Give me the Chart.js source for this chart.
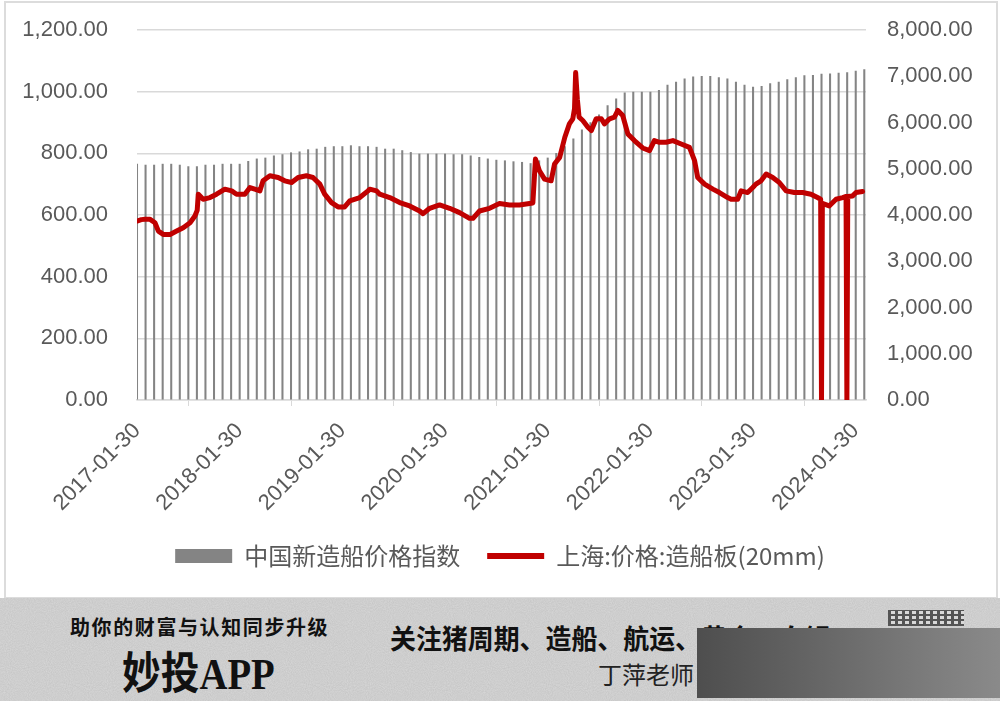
<!DOCTYPE html>
<html>
<head>
<meta charset="utf-8">
<script src="https://cdn.jsdelivr.net/npm/chart.js@4.4.1/dist/chart.umd.min.js"></script>
<style>
html,body{margin:0;padding:0;background:#fff;}
body{width:1000px;height:701px;position:relative;overflow:hidden;font-family:"Noto Sans CJK SC",sans-serif;}
#chartBox{position:absolute;left:0;top:0;width:1000px;height:598px;}
#frame{position:absolute;left:4px;top:1px;width:990px;height:594px;border:2px solid #dcdcdc;pointer-events:none;}
#banner{position:absolute;left:0;top:598px;width:1000px;height:103px;overflow:hidden;
  background:#d8d8d8 url("data:image/svg+xml;utf8,<svg xmlns='http://www.w3.org/2000/svg' width='240' height='240'><filter id='n'><feTurbulence type='fractalNoise' baseFrequency='0.95' numOctaves='2' seed='3'/><feColorMatrix values='0 0 0 0 0.45 0 0 0 0 0.45 0 0 0 0 0.45 0 0 0 0.55 0'/></filter><rect width='100%' height='100%' filter='url(%23n)'/></svg>");}
.bt{position:absolute;white-space:nowrap;color:#111;}
#slogan{left:70px;top:14px;font-size:20px;font-weight:bold;letter-spacing:1.6px;}
#app{left:122px;top:55px;font-size:44px;font-weight:bold;font-family:"Liberation Serif","Noto Sans CJK SC",serif;transform:scaleX(0.88);transform-origin:left top;line-height:44px;}
#topics{left:390px;top:20px;font-size:27px;font-weight:bold;transform:scaleX(0.96);transform-origin:left top;}
#teacher{left:598px;top:58px;font-size:24px;color:#222;}
#qr{left:888px;top:12px;width:76px;height:16px;background:
  repeating-linear-gradient(90deg,#222 0 3px,transparent 3px 7px),
  repeating-linear-gradient(0deg,#222 0 2px,#ddd 2px 5px);opacity:.7;}
#cover{left:697px;top:30px;width:303px;height:70px;background:linear-gradient(90deg,#4e4e4e,#8a8a8a);}
</style>
</head>
<body>
<div id="chartBox"><canvas id="myChart"></canvas></div>
<div id="frame"></div>
<div id="banner">
  <div class="bt" id="slogan">助你的财富与认知同步升级</div>
  <div class="bt" id="app">妙投APP</div>
  <div class="bt" id="topics">关注猪周期、造船、航运、黄金、白银</div>
  <div class="bt" id="teacher">丁萍老师</div>
  <div class="bt" id="qr"></div>
  <div class="bt" id="cover"></div>
</div>
<script>
// 中国新造船价格指数, monthly (left axis)
const indexMonths=[
 '2017-01','2017-02','2017-03','2017-04','2017-05','2017-06','2017-07','2017-08','2017-09','2017-10','2017-11','2017-12',
 '2018-01','2018-02','2018-03','2018-04','2018-05','2018-06','2018-07','2018-08','2018-09','2018-10','2018-11','2018-12',
 '2019-01','2019-02','2019-03','2019-04','2019-05','2019-06','2019-07','2019-08','2019-09','2019-10','2019-11','2019-12',
 '2020-01','2020-02','2020-03','2020-04','2020-05','2020-06','2020-07','2020-08','2020-09','2020-10','2020-11','2020-12',
 '2021-01','2021-02','2021-03','2021-04','2021-05','2021-06','2021-07','2021-08','2021-09','2021-10','2021-11','2021-12',
 '2022-01','2022-02','2022-03','2022-04','2022-05','2022-06','2022-07','2022-08','2022-09','2022-10','2022-11','2022-12',
 '2023-01','2023-02','2023-03','2023-04','2023-05','2023-06','2023-07','2023-08','2023-09','2023-10','2023-11','2023-12',
 '2024-01','2024-02'];
const indexValues=[
 765,762,762,765,765,762,757,757,762,762,765,765,
 765,774,782,785,792,796,802,805,812,814,820,822,
 822,825,822,822,820,814,814,809,803,798,798,798,
 798,796,796,792,787,782,778,776,773,771,767,776,
 785,800,822,847,876,900,925,955,977,996,999,999,
 999,1004,1021,1031,1042,1048,1050,1050,1046,1042,1031,1021,
 1015,1017,1026,1031,1039,1046,1052,1053,1057,1058,1060,1062,
 1067,1072];

// 上海:价格:造船板(20mm) (right axis)
const priceDates=[
 '2017-01-30','2017-02-15','2017-02-28','2017-03-16','2017-04-03','2017-04-15','2017-05-02','2017-05-26','2017-06-19','2017-07-12',
 '2017-08-06','2017-08-23','2017-09-01','2017-09-05','2017-09-22','2017-10-16','2017-11-09','2017-12-08','2018-01-02','2018-01-19',
 '2018-02-18','2018-03-06','2018-03-23','2018-04-11','2018-04-22','2018-05-16','2018-06-15','2018-07-08','2018-08-02','2018-08-25',
 '2018-09-24','2018-10-17','2018-11-11','2018-11-28','2018-12-22','2019-01-15','2019-02-08','2019-02-26','2019-04-01','2019-04-30',
 '2019-05-06','2019-05-30','2019-06-11','2019-07-16','2019-08-21','2019-09-26','2019-11-01','2019-11-13','2019-12-06','2020-01-11',
 '2020-02-16','2020-03-21','2020-04-26','2020-05-08','2020-06-01','2020-07-06','2020-08-11','2020-09-16','2020-10-21','2020-11-26',
 '2020-12-08','2020-12-17','2021-01-01','2021-01-19','2021-02-12','2021-02-24','2021-03-12','2021-03-30','2021-04-16','2021-04-28',
 '2021-05-04','2021-05-08','2021-05-14','2021-05-20','2021-06-03','2021-06-21','2021-07-03','2021-07-20','2021-08-08','2021-08-19',
 '2021-09-07','2021-09-24','2021-10-06','2021-10-23','2021-11-11','2021-12-04','2022-01-03','2022-01-27','2022-02-14','2022-03-02',
 '2022-03-25','2022-04-19','2022-05-18','2022-06-17','2022-07-05','2022-07-16','2022-08-10','2022-09-09','2022-10-02','2022-11-01',
 '2022-11-13','2022-12-06','2022-12-18','2023-01-11','2023-01-29','2023-02-10','2023-02-28','2023-03-16','2023-04-09','2023-05-02',
 '2023-05-26','2023-06-25','2023-07-24','2023-08-23','2023-09-16','2023-09-27','2023-09-30','2023-10-03','2023-10-27','2023-11-21',
 '2023-12-14','2023-12-26','2023-12-29','2024-01-02','2024-01-19','2024-02-01','2024-02-24'];
const priceValues=[
 3870,3900,3906,3906,3833,3652,3580,3580,3652,3725,
 3833,3978,4100,4450,4341,4377,4450,4559,4522,4450,
 4450,4594,4559,4522,4739,4848,4811,4739,4703,4811,
 4848,4811,4667,4450,4268,4174,4174,4305,4377,4522,
 4559,4522,4450,4377,4268,4196,4087,4029,4145,4218,
 4145,4051,3928,3928,4087,4145,4247,4218,4218,4250,
 4260,5210,4957,4776,4739,5102,5246,5681,5971,6080,
 6300,7080,6500,6116,6043,5898,5826,6080,6080,5971,
 6080,6116,6261,6152,5754,5609,5449,5391,5609,5572,
 5572,5609,5536,5463,5174,4811,4667,4559,4485,4377,
 4341,4341,4522,4485,4594,4667,4739,4885,4811,4703,
 4522,4485,4485,4450,4377,4340,0,4250,4196,4341,
 4377,4400,0,4400,4413,4485,4507];

const tickLabels=['2017-01-30','2018-01-30','2019-01-30','2020-01-30','2021-01-30','2022-01-30','2023-01-30','2024-01-30'];
const leftTicks=[0,200,400,600,800,1000,1200];
const rightTicks=[0,1000,2000,3000,4000,5000,6000,7000,8000];
const seriesNames=['中国新造船价格指数','上海:价格:造船板(20mm)'];

// months since 2017-01-30
const toMonths=s=>{
    const p=s.split('-').map(Number);
    const d=p.length>2?p[2]:30;
    return (p[0]-2017)*12+(p[1]-1)+(d-30)/30;
};
const fmt=v=>v.toLocaleString('en-US',{minimumFractionDigits:2,maximumFractionDigits:2});
const tickFont={family:"'Liberation Sans', Arial, sans-serif",size:22};
const tickColor='#595959';
const clear='rgba(0,0,0,0)';

const barData=indexMonths.map((m,i)=>({x:toMonths(m),y:indexValues[i]}));
const lineData=priceDates.map((d,i)=>({x:toMonths(d),y:priceValues[i]}));
const yearTicks=tickLabels.map(toMonths);

const ctx=document.getElementById('myChart').getContext('2d');
new Chart(ctx,{
    type:'bar',
    data:{
        datasets:[{
            type:'bar',
            label:seriesNames[0],
            data:barData,
            yAxisID:'y',
            backgroundColor:'#848484',
            borderWidth:0,
            barThickness:1.4,
            pointStyle:'rect',
            order:1
        },{
            type:'line',
            label:seriesNames[1],
            data:lineData,
            yAxisID:'y1',
            borderColor:'#c00000',
            backgroundColor:'#c00000',
            borderWidth:5,
            borderJoinStyle:'round',
            borderCapStyle:'round',
            pointRadius:0,
            pointStyle:'line',
            tension:0,
            order:0
        }]
    },
    options:{
        responsive:true,
        maintainAspectRatio:false,
        animation:false,
        devicePixelRatio:1,
        layout:{padding:{top:30,bottom:20,left:0,right:0}},
        plugins:{
            tooltip:{enabled:false},
            legend:{
                position:'bottom',
                labels:{
                    usePointStyle:true,
                    pointStyleWidth:57,
                    boxHeight:14,
                    padding:27,
                    color:tickColor,
                    font:{family:"'Noto Sans CJK SC', sans-serif",size:24},
                    sort:(a,b)=>a.datasetIndex-b.datasetIndex,
                    generateLabels:chart=>Chart.defaults.plugins.legend.labels.generateLabels(chart).map(item=>{
                        if(item.datasetIndex===1){item.lineWidth=6;}
                        return item;
                    })
                }
            }
        },
        scales:{
            x:{
                type:'linear',
                min:0,
                max:85.2,
                offset:false,
                afterBuildTicks:scale=>{scale.ticks=yearTicks.map(v=>({value:v}));},
                afterFit:scale=>{scale.height=117;},
                grid:{drawOnChartArea:false,drawTicks:true,tickLength:6,color:'#d9d9d9'},
                border:{display:true,color:'#d9d9d9',width:1.5},
                ticks:{
                    autoSkip:false,
                    minRotation:45,
                    maxRotation:45,
                    padding:12,
                    color:tickColor,
                    font:{family:"'Liberation Sans', Arial, sans-serif",size:22},
                    callback:v=>{const i=yearTicks.indexOf(v);return i>=0?tickLabels[i]:'';}
                }
            },
            y:{
                position:'left',
                min:0,
                max:1200,
                afterBuildTicks:scale=>{scale.ticks=leftTicks.map(v=>({value:v}));},
                afterFit:scale=>{scale.width=137;},
                grid:{color:'#d9d9d9',lineWidth:1.5,drawTicks:true,tickLength:29,tickColor:clear},
                border:{display:false},
                ticks:{padding:0,color:tickColor,font:tickFont,callback:v=>fmt(v)}
            },
            y1:{
                position:'right',
                min:0,
                max:8000,
                afterBuildTicks:scale=>{scale.ticks=rightTicks.map(v=>({value:v}));},
                afterFit:scale=>{scale.width=134;},
                grid:{drawOnChartArea:false,drawTicks:true,tickLength:21,tickColor:clear},
                border:{display:false},
                ticks:{padding:0,color:tickColor,font:tickFont,callback:v=>fmt(v)}
            }
        }
    }
});
</script>
</body>
</html>
